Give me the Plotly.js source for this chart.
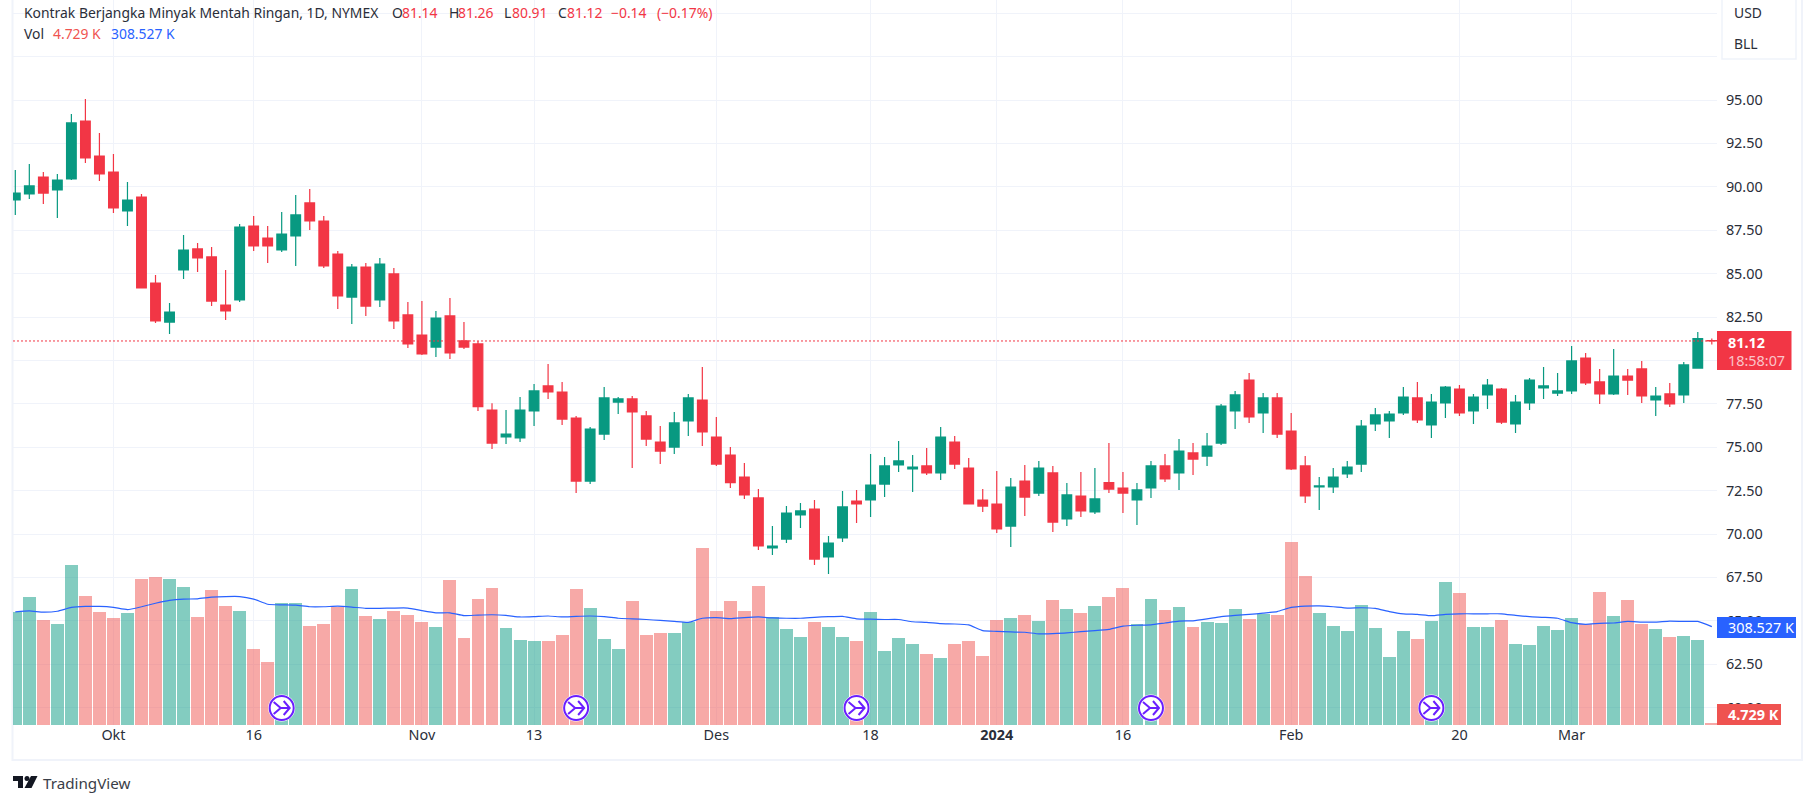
<!DOCTYPE html>
<html>
<head>
<meta charset="utf-8">
<script src="https://cdn.plot.ly/plotly-2.35.2.min.js"></script>
<style>
html, body { margin: 0; padding: 0; background: #fff; }
</style>
</head>
<body>
<div id="chart" style="width:1815px;height:804px"></div>
<script>
// daily bars, oldest first (Sep 2023 - Mar 2024)
var opens = [89.24,89.59,90.56,89.82,90.45,93.79,91.77,90.85,88.61,89.41,84.46,82.21,85.21,86.42,85.96,83.19,83.48,87.74,87.05,86.36,87.17,89.07,88.03,86.13,83.65,85.38,83.48,84.98,82.62,81.46,80.77,82.56,81.12,80.95,77.14,75.59,75.53,77.09,78.53,78.18,76.68,73.05,
  75.76,77.60,77.78,76.80,75.30,75.01,76.51,77.72,75.59,74.55,73.28,72.08,69.20,69.71,71.10,71.44,68.68,69.77,71.90,71.96,72.88,73.98,73.75,73.92,73.52,75.30,73.80,71.96,71.73,70.46,73.05,72.36,73.52,70.87,72.19,71.27,72.96,72.65,71.96,72.65,73.92,73.52,74.67,74.49,
  75.24,77.09,78.87,76.97,77.84,75.93,73.92,72.71,72.71,73.46,74.03,76.34,76.51,76.97,77.84,76.28,77.55,78.35,77.09,78.01,78.35,76.34,77.55,78.41,78.12,78.24,80.14,78.76,78.07,79.10,79.51,77.72,78.07,78.01,79.56,81.14];
var highs = [90.97,91.31,90.85,90.74,94.19,95.06,93.10,91.89,90.28,89.59,84.92,83.31,87.22,86.76,86.53,85.21,87.86,88.32,87.74,88.55,89.53,89.87,88.32,86.30,85.55,85.61,85.90,85.32,83.36,83.42,82.85,83.60,82.21,81.12,77.53,77.14,77.90,78.64,79.79,78.76,76.80,76.16,
  78.47,77.89,77.95,77.09,76.22,77.03,78.07,79.62,76.74,75.01,74.09,72.59,70.46,71.61,71.79,71.96,69.89,72.48,72.54,74.61,74.44,75.36,74.55,74.96,76.17,75.65,74.38,72.59,73.63,73.23,73.98,74.21,73.92,72.94,73.57,73.80,75.24,73.57,72.94,74.21,74.61,75.47,75.24,75.82,
  77.49,78.24,79.28,78.12,78.12,76.97,74.49,73.28,73.80,74.21,76.57,77.26,77.09,78.47,78.76,78.07,78.53,78.58,78.07,78.93,78.41,78.01,78.99,79.62,79.28,80.83,80.43,79.51,80.66,79.51,79.97,78.47,78.70,79.91,81.64,81.26];
var lows = [88.38,89.30,89.01,88.20,90.39,91.37,90.33,88.49,87.74,84.15,82.16,81.52,84.69,85.09,83.13,82.33,83.36,86.30,85.61,86.24,85.44,87.51,85.32,82.96,82.10,82.56,83.08,81.81,80.72,80.31,80.20,80.08,80.66,77.09,74.90,75.19,75.30,76.22,77.78,76.28,72.36,72.88,
  75.42,76.91,73.80,75.07,74.03,74.61,75.65,75.07,73.92,72.65,72.02,69.08,68.79,69.48,70.35,68.22,67.70,69.54,70.64,70.98,72.13,73.57,72.42,73.40,73.11,73.75,71.73,71.27,70.06,69.25,71.04,72.19,70.12,70.46,70.98,71.15,72.36,71.21,70.52,72.08,73.00,72.54,73.40,73.92,
  75.13,76.05,76.40,75.82,75.53,73.69,71.79,71.38,72.36,73.23,73.57,75.93,75.53,76.86,76.40,75.53,76.68,76.80,76.34,77.20,76.34,75.82,77.14,77.78,77.95,78.07,78.58,77.49,78.01,78.01,77.55,76.80,77.32,77.55,79.56,80.91];
var closes = [89.64,90.05,89.64,90.39,93.68,91.66,90.74,88.78,89.24,84.17,82.27,82.79,86.36,85.90,83.42,82.85,87.68,86.59,86.59,87.28,88.38,88.03,85.44,83.71,85.38,83.13,85.55,82.27,80.95,80.37,82.44,80.43,80.77,77.34,75.24,75.76,77.14,78.24,78.18,76.62,73.05,76.05,
  77.84,77.78,77.03,75.47,74.78,76.40,77.84,75.88,74.03,72.96,72.25,69.31,69.31,71.21,71.33,68.56,69.48,71.56,71.73,72.82,73.92,74.21,73.86,73.52,75.59,74.03,71.73,71.61,70.29,72.71,72.13,73.80,70.69,72.25,71.33,72.02,72.59,72.36,72.54,73.92,73.17,74.78,74.32,75.07,
  77.37,78.01,76.74,77.84,75.76,73.75,72.19,72.77,73.28,73.86,76.22,76.86,76.91,77.89,76.57,77.60,78.47,76.97,77.89,78.58,76.45,77.60,78.87,78.53,78.24,79.97,78.70,78.07,79.10,78.87,77.95,77.95,77.49,79.74,81.26,81.12];

// volume and its moving average, thousands of contracts
var volumes = [355,402,329,317,502,405,355,336,351,458,464,458,433,339,424,373,358,238,198,383,383,311,317,370,427,342,333,358,345,323,308,455,273,395,430,304,267,264,264,282,427,367,
  270,238,389,282,289,289,323,555,358,389,358,436,339,301,276,323,308,276,264,355,232,273,254,223,210,254,264,217,329,336,345,326,392,364,351,373,402,430,317,395,361,370,308,323,
  320,364,333,348,345,574,468,351,311,295,377,304,213,295,270,326,449,414,308,308,329,254,251,311,298,336,317,417,342,392,317,301,276,279,267,4.729];
var volumeMA = [355,358,354,357,369,372,372,369,362,371,382,391,395,396,401,403,403,395,379,377,376,371,371,373,370,366,366,367,367,359,352,352,343,345,346,344,339,340,342,339,341,342,
  340,335,333,331,328,325,322,335,337,334,337,339,336,335,335,338,340,341,333,332,331,331,324,322,318,317,314,296,294,292,291,286,287,289,293,296,300,310,313,314,320,326,327,333,
  340,344,347,351,356,369,373,374,371,367,368,366,356,349,347,343,347,349,349,349,349,344,340,338,335,321,316,319,320,325,323,323,326,325,325,308.527];

var tickBars = [7,17,29,37,50,61,70,79,91,103,111];
var tickLabels = ['Okt','16','Nov','13','Des','18','<b>2024</b>','16','Feb','20','Mar'];
var priceTicks = [60,62.5,65,67.5,70,72.5,75,77.5,80,82.5,85,87.5,90,92.5,95,97.5,100];
// 80.00 sits under the last price flag, 97.50 and 100.00 are grid only
var priceLabels = ['60.00','62.50','65.00','67.50','70.00','72.50','75.00','77.50','','82.50','85.00','87.50','90.00','92.50','95.00','',''];
var dividendBars = [19,40,60,81,101];
var lastPrice = 81.12;

var UP = '#089981', DOWN = '#F23645';
var W = 1815, H = 804, LEFT = 13, RIGHT = 1717, BOTTOM = 725;
var FONT = '"Noto Sans", sans-serif';

var bars = closes.map(function(c, i) { return i; });
var volColors = closes.map(function(c, i) {
  return c >= opens[i] ? 'rgba(8,153,129,0.5)' : 'rgba(239,83,80,0.5)';
});

// page pixels to paper fractions, for the furniture around the plot
function px(x) { return (x - LEFT) / (RIGHT - LEFT); }
function py(y) { return (BOTTOM - y) / BOTTOM; }

function label(x, y, text, color, size, anchor) {
  return {
    xref: 'paper', yref: 'paper', x: px(x), y: py(y), text: text, showarrow: false,
    xanchor: anchor || 'left', yanchor: 'middle', xshift: 0, borderpad: 0,
    font: { family: FONT, size: size || 13.9, color: color || '#2a2e39' }
  };
}

function box(x0, y0, x1, y1, fill) {
  return { type: 'rect', xref: 'paper', yref: 'paper', x0: px(x0), x1: px(x1), y0: py(y0), y1: py(y1),
    fillcolor: fill, line: { width: 0 }, layer: 'above' };
}

var annotations = [
  label(23, 12, 'Kontrak Berjangka Minyak Mentah Ringan, 1D, NYMEX'),
  label(391, 12, 'O'), label(401, 12, '81.14', DOWN),
  label(447.5, 12, 'H'), label(457, 12, '81.26', DOWN),
  label(503.5, 12, 'L'), label(511, 12, '80.91', DOWN),
  label(557, 12, 'C'), label(566, 12, '81.12', DOWN),
  label(610, 12, '\u22120.14', DOWN), label(656, 12, '(\u22120.17%)', DOWN),
  label(23, 33, 'Vol'), label(52, 33, '4.729 K', '#EF5350'), label(110, 33, '308.527 K', '#2962FF'),
  label(1733, 13, 'USD'), label(1733, 43.5, 'BLL'),
  label(1727, 342, '<b>81.12</b>', '#fff', 14.4),
  label(1727, 360, '18:58:07', '#fbc4c9', 14.4),
  label(1727, 627.5, '308.527 K', '#fff', 14.4),
  label(1727, 714.5, '<b>4.729 K</b>', '#fff', 14.4),
  label(42, 782.5, 'TradingView', '#3a3e48', 15.2)
];

var shapes = [
  // frame around the widget
  { type: 'rect', xref: 'paper', yref: 'paper', x0: px(12.5), x1: px(1802), y0: py(-20), y1: py(760),
    line: { color: '#f0f3fa', width: 2 }, layer: 'below' },
  // last price line
  { type: 'line', xref: 'paper', yref: 'y2', x0: 0, x1: 1, y0: lastPrice, y1: lastPrice,
    line: { color: DOWN, width: 1, dash: '2px,2px' }, layer: 'above' },
  // currency / unit box
  { type: 'rect', xref: 'paper', yref: 'paper', x0: px(1722), x1: px(1796), y0: py(-10), y1: py(59),
    fillcolor: '#fff', line: { color: '#f0f3fa', width: 1.5 }, layer: 'above' },
  box(1717, 331, 1791.5, 370, DOWN),
  box(1717, 617, 1796, 638, '#2962FF'),
  box(1717, 704, 1781, 725, '#EF5350'),
  // TV logo
  { type: 'path', xref: 'paper', yref: 'paper', fillcolor: '#131722', line: { width: 0 }, layer: 'above',
    path: 'M ' + px(13) + ' ' + py(776) + ' L ' + px(23) + ' ' + py(776) + ' L ' + px(23) + ' ' + py(788) +
          ' L ' + px(18) + ' ' + py(788) + ' L ' + px(18) + ' ' + py(781) + ' L ' + px(13) + ' ' + py(781) + ' Z' +
          ' M ' + px(31) + ' ' + py(776) + ' L ' + px(37.5) + ' ' + py(776) + ' L ' + px(31.5) + ' ' + py(788) +
          ' L ' + px(24.5) + ' ' + py(788) + ' Z' },
  { type: 'circle', xref: 'paper', yref: 'paper', fillcolor: '#131722', line: { width: 0 }, layer: 'above',
    x0: px(24.5), x1: px(29.5), y0: py(776), y1: py(781) }
];

// dividend markers sitting on the bars
dividendBars.forEach(function(b) {
  var anchor = { xref: 'x', yref: 'paper', xsizemode: 'pixel', ysizemode: 'pixel', xanchor: b, yanchor: py(708), layer: 'above' };
  shapes.push(Object.assign({ type: 'circle', x0: -13.5, x1: 13.5, y0: -13.5, y1: 13.5, fillcolor: '#fff', line: { width: 0 } }, anchor));
  shapes.push(Object.assign({ type: 'circle', x0: -12, x1: 12, y0: -12, y1: 12, fillcolor: '#fff', line: { color: '#6a1fff', width: 2 } }, anchor));
  shapes.push(Object.assign({ type: 'path', path: 'M -8 6 L -1 0 L -8 -6 M -2 0 L 8 0 M 2 7 L 8 0 L 2 -7',
    line: { color: '#6a1fff', width: 2 } }, anchor));
});

var volumeTrace = {
  type: 'bar', x: bars, y: volumes, yaxis: 'y', marker: { color: volColors, line: { width: 0 } },
  width: 0.92, hoverinfo: 'skip'
};
var maTrace = {
  type: 'scatter', mode: 'lines', x: bars, y: volumeMA, yaxis: 'y',
  line: { color: '#2962FF', width: 1.2, shape: 'spline', smoothing: 0.4 }, hoverinfo: 'skip'
};
var candles = {
  type: 'candlestick', x: bars, open: opens, high: highs, low: lows, close: closes, yaxis: 'y2',
  whiskerwidth: 0,
  increasing: { line: { color: UP, width: 1.2 }, fillcolor: UP },
  decreasing: { line: { color: DOWN, width: 1.2 }, fillcolor: DOWN }
};

var layout = {
  width: W, height: H,
  margin: { l: LEFT, r: W - RIGHT, t: 0, b: H - BOTTOM, pad: 0 },
  paper_bgcolor: '#fff', plot_bgcolor: 'rgba(0,0,0,0)',
  showlegend: false, bargap: 0, boxgap: 0.31, boxgroupgap: 0,
  font: { family: FONT, size: 14.4, color: '#2a2e39' },
  xaxis: {
    range: [-0.164, 121.37], tickmode: 'array', tickvals: tickBars, ticktext: tickLabels,
    showgrid: true, gridcolor: '#f0f3fa', gridwidth: 1, zeroline: false, showline: false,
    ticks: '', tickangle: 0, rangeslider: { visible: false }, fixedrange: true
  },
  yaxis: { range: [0, 2275], showgrid: false, showticklabels: false, zeroline: false, ticks: '', fixedrange: true },
  yaxis2: {
    overlaying: 'y', side: 'right', range: [59.0, 100.76], tickmode: 'array', tickvals: priceTicks,
    ticktext: priceLabels,
    showgrid: true, gridcolor: '#f0f3fa', gridwidth: 1, zeroline: false, showline: false,
    ticks: 'outside', ticklen: 5, tickcolor: 'rgba(0,0,0,0)', fixedrange: true
  },
  annotations: annotations,
  shapes: shapes
};

Plotly.newPlot('chart', [volumeTrace, maTrace, candles], layout, { displayModeBar: false, responsive: false });
</script>
</body>
</html>
